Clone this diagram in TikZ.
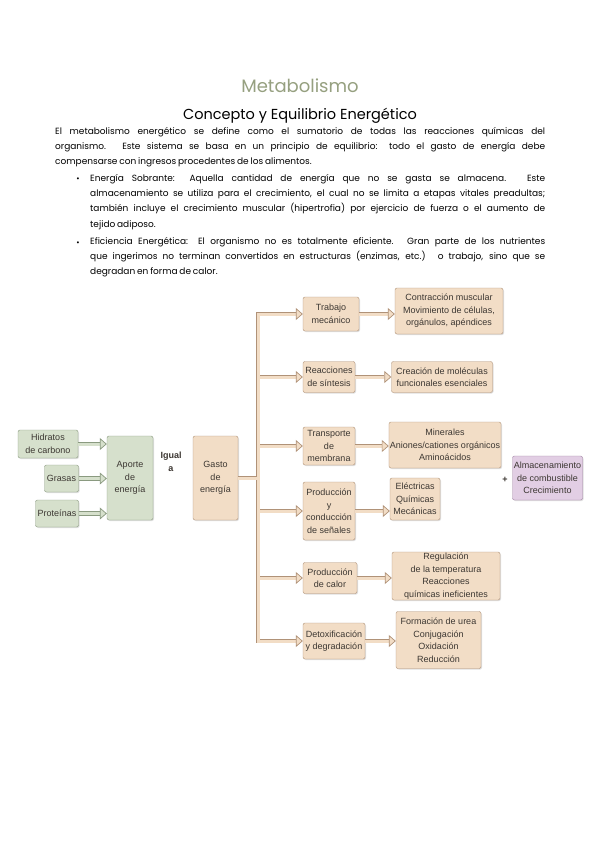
\documentclass[tikz,border=0pt]{standalone}
\usepackage{fontspec}
\setmainfont{Liberation Sans}
\newfontfamily\gothic{Poppins}
\usetikzlibrary{arrows.meta, shadows}
\definecolor{peachfill}{RGB}{242, 221, 198}
\definecolor{peachline}{RGB}{176, 146, 120}
\definecolor{sagefill}{RGB}{214, 224, 204}
\definecolor{sageline}{RGB}{138, 154, 128}
\definecolor{lilacfill}{RGB}{226, 206, 228}
\definecolor{lilacline}{RGB}{160, 130, 162}
\definecolor{titlegreen}{RGB}{150, 160, 128}
\definecolor{boxtext}{RGB}{60, 55, 50}
\newcommand\tightspaces{\spaceskip=0.2em plus 1em minus 0.06em\relax}
\tikzset{
  box/.style={draw=peachline, fill=peachfill, rounded corners=2pt, align=center, inner sep=1pt,
    text=boxtext, font=\fontsize{9}{12.5}\selectfont,
    drop shadow={opacity=0.25, shadow xshift=1pt, shadow yshift=-1pt}},
  sagebox/.style={box, draw=sageline, fill=sagefill},
  lilacbox/.style={box, draw=lilacline, fill=lilacfill},
  pipe/.style={draw=peachline, double=peachfill, line width=0.7pt, double distance=3pt},
  pipearrow/.style={pipe, -{Triangle[length=7pt, width=12pt, fill=peachfill]}},
  sagepipe/.style={pipearrow, draw=sageline, double=sagefill, -{Triangle[length=7pt, width=12pt, fill=sagefill]}},
  bodytext/.style={anchor=north west, align=justify, inner sep=0pt,
    font=\gothic\fontsize{9}{15.3}\selectfont}
}

\begin{document}
\begin{tikzpicture}[x=1pt, y=-1pt]
    \useasboundingbox[fill=white] (0,0) rectangle (599,848);
    % titles and text
    \node (titulo) at (300,86) {\gothic\fontsize{18}{20}\selectfont\color{titlegreen}Metabolismo};
    \node (subtitulo) at (300,116) {\gothic\fontsize{14.5}{16}\selectfont Concepto y Equilibrio Energético};
    \node[bodytext, text width=490pt] (parrafo) at (55,127) {\tightspaces El metabolismo energético se define como el sumatorio de todas las reacciones químicas del\linebreak organismo. Este sistema se basa en un principio de equilibrio: todo el gasto de energía debe\linebreak compensarse con ingresos procedentes de los alimentos.};
    \node[bodytext, text width=455pt] (sobrante) at (90,174) {\tightspaces Energía Sobrante: Aquella cantidad de energía que no se gasta se almacena. Este\linebreak almacenamiento se utiliza para el crecimiento, el cual no se limita a etapas vitales preadultas;\linebreak también incluye el crecimiento muscular (hipertrofia) por ejercicio de fuerza o el aumento de\linebreak tejido adiposo.};
    \node[bodytext, text width=455pt] (eficiencia) at (90,237) {\tightspaces Eficiencia Energética: El organismo no es totalmente eficiente. Gran parte de los nutrientes\linebreak que ingerimos no terminan convertidos en estructuras (enzimas, etc.) o trabajo, sino que se\linebreak degradan en forma de calor.};
    \node[font=\gothic\fontsize{8}{10}\selectfont] (bala1) at (78,180) {\textbullet};
    \node[font=\gothic\fontsize{8}{10}\selectfont] (bala2) at (78,244) {\textbullet};

    % inputs
    \node[sagebox, minimum width=60pt, minimum height=28pt] (hid) at (48,444) {Hidratos\\de carbono};
    \node[sagebox, minimum width=34pt, minimum height=27pt] (gra) at (61.5,478.5) {Grasas};
    \node[sagebox, minimum width=43pt, minimum height=27pt] (pro) at (57,513.5) {Proteínas};
    \node[sagebox, minimum width=46pt, minimum height=84pt] (apo) at (130,478) {Aporte\\de\\energía};
    \node[font=\bfseries\fontsize{9}{12.5}\selectfont, align=center, text=boxtext] (igual) at (171,462) {Igual\\a};
    \node[box, minimum width=45pt, minimum height=84pt] (gas) at (215.5,478) {Gasto\\de\\energía};

    % uses
    \node[box, minimum width=56pt, minimum height=34pt] (t1) at (331,314) {Trabajo\\mecánico};
    \node[box, minimum width=52pt, minimum height=31pt] (t2) at (329,377) {Reacciones\\de síntesis};
    \node[box, minimum width=52pt, minimum height=38pt] (t3) at (329,446) {Transporte\\de\\membrana};
    \node[box, minimum width=52pt, minimum height=58pt] (t4) at (329,511) {Producción\\y\\conducción\\de señales};
    \node[box, minimum width=54pt, minimum height=31pt] (t5) at (330,578) {Producción\\de calor};
    \node[box, minimum width=62pt, minimum height=36pt] (t6) at (334,641) {Detoxificación\\y degradación};

    % results
    \node[box, minimum width=108pt, minimum height=46pt] (r1) at (449,311) {Contracción muscular\\Movimiento de células,\\orgánulos, apéndices};
    \node[box, minimum width=101pt, minimum height=31pt] (r2) at (442,377) {Creación de moléculas\\funcionales esenciales};
    \node[box, minimum width=110pt, minimum height=46pt] (r3) at (445,445) {Minerales\\Aniones/cationes orgánicos\\Aminoácidos};
    \node[box, minimum width=50pt, minimum height=42pt] (r4) at (415,499) {Eléctricas\\Químicas\\Mecánicas};
    \node[box, minimum width=108pt, minimum height=48pt] (r5) at (446,576) {Regulación\\de la temperatura\\Reacciones\\químicas ineficientes};
    \node[box, minimum width=85pt, minimum height=57pt] (r6) at (438.5,640) {Formación de urea\\Conjugación\\Oxidación\\Reducción};

    \node[font=\bfseries\fontsize{9}{10}\selectfont, text=boxtext] (mas) at (505,480) {+};
    \node[lilacbox, minimum width=70pt, minimum height=44pt] (alm) at (547.5,478) {Almacenamiento\\de combustible\\Crecimiento};

    % connectors
    \coordinate (bus) at (258,0);
    \draw[sagepipe] (hid.east) -- (hid.east -| apo.west);
    \draw[sagepipe] (gra.east) -- (gra.east -| apo.west);
    \draw[sagepipe] (pro.east) -- (pro.east -| apo.west);
    \draw[pipe] (gas.east) -- (gas.east -| bus)
        ([xshift=-9pt]t1.west) -- (bus |- t1) -- (bus |- t6) -- ([xshift=-9pt]t6.west)
        foreach \t in {t2,t3,t4,t5} { (bus |- \t) -- ([xshift=-9pt]\t.west) };
    \foreach \t in {t1,t2,t3,t4,t5,t6}
        \draw[pipearrow] ([xshift=-11pt]\t.west) -- (\t.west);
    \foreach \t/\r in {t1/r1,t2/r2,t3/r3,t4/r4,t5/r5,t6/r6}
        \draw[pipearrow] (\t.east) -- (\t.east -| \r.west);
\end{tikzpicture}
\end{document}
